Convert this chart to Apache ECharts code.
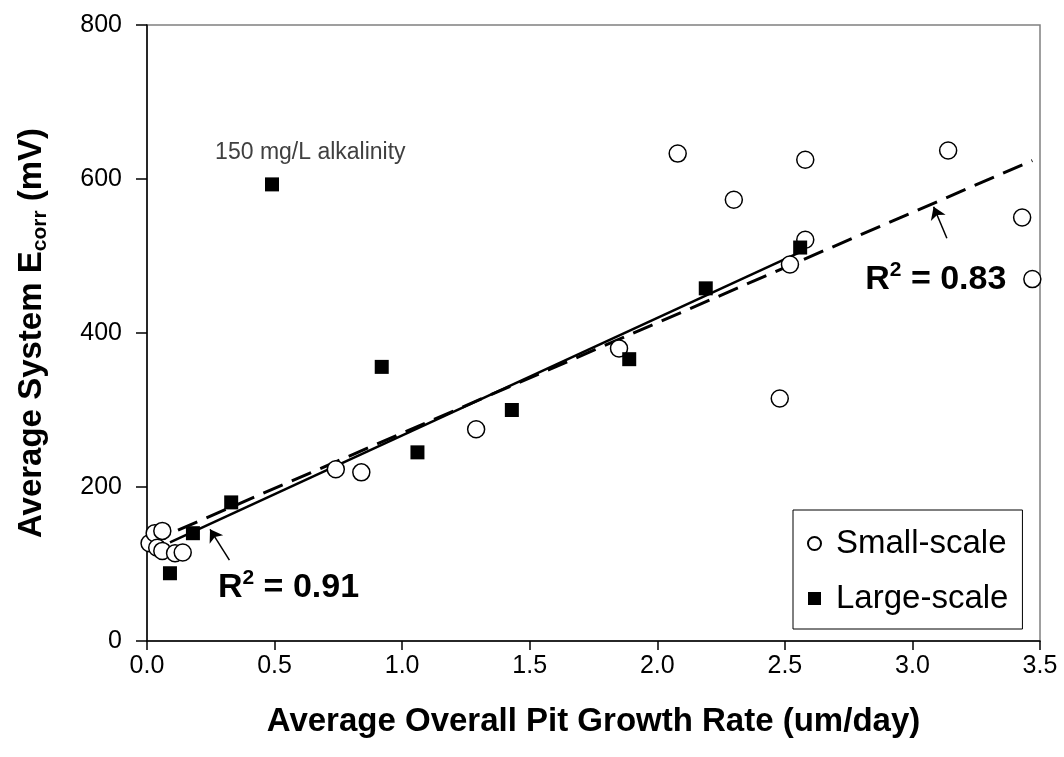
<!DOCTYPE html>
<html>
<head>
<meta charset="utf-8">
<script src="https://cdn.jsdelivr.net/npm/echarts@6/dist/echarts.min.js"></script>
<style>html,body{margin:0;padding:0;background:#fff}#c{width:1064px;height:757px}</style>
</head>
<body>
<div id="c"></div>
<script>
// Small-scale (open circles): [growth rate um/day, Ecorr mV]
var smallScale = [
  [0.01,127],[0.03,140],[0.06,143],[0.04,121],[0.06,117],[0.11,114],[0.14,115],
  [0.74,223],[0.84,219],[1.29,275],[1.85,380],[2.08,633],[2.30,573],[2.48,315],
  [2.52,489],[2.58,521],[2.58,625],[3.14,637],[3.43,550],[3.47,470]
];
// Large-scale (filled squares)
var largeScale = [
  [0.09,88],[0.18,140],[0.33,180],[0.49,593],[0.92,356],[1.06,245],
  [1.43,300],[1.89,366],[2.19,458],[2.56,511]
];
// Trend line endpoints
var trendSolid = [[0.09,128],[2.56,505]];
var trendDashed = [[0.01,128],[3.47,624]];
// Annotation arrows [from, to]
var arrows = [
  [[3.135,523],[3.083,564]],
  [[0.323,105],[0.247,145]]
];
// Text annotations
var notes = [
  {coord:[0.267,634], text:'150 mg/L alkalinity', kind:'plain'},
  {coord:[2.815,469], text:'{a|R}{s|2}{a| = 0.83}', kind:'rich'},
  {coord:[0.278,69], text:'{a|R}{s|2}{a| = 0.91}', kind:'rich'}
];
var xTicks = {min:0, max:3.5, interval:0.5};
var yTicks = {min:0, max:800, interval:200};

var FF = '"Liberation Sans", Arial, sans-serif';
var chart = echarts.init(document.getElementById('c'), null, {renderer:'canvas'});

var noteData = notes.map(function(n){
  return {
    coord: n.coord,
    symbolSize: 0,
    label: {
      show: true,
      position: 'inside',
      align: 'left',
      verticalAlign: 'middle',
      formatter: n.text,
      color: n.kind === 'plain' ? '#404040' : '#000',
      fontSize: n.kind === 'plain' ? 23 : 34,
      fontWeight: n.kind === 'plain' ? 'normal' : 'bold',
      fontFamily: FF,
      rich: {
        a: {fontSize: 34, fontWeight: 'bold', fontFamily: FF, color:'#000', lineHeight: 40},
        s: {fontSize: 21, fontWeight: 'bold', fontFamily: FF, color:'#000', lineHeight: 20, verticalAlign: 'top'}
      }
    }
  };
});

var option = {
  backgroundColor: '#fff',
  animation: false,
  grid: {left:147, right:24, top:25, bottom:116, show:true, borderColor:'#808080', borderWidth:1.5, backgroundColor:'transparent'},
  legend: {
    data: ['Small-scale','Large-scale'],
    orient: 'vertical',
    left: 793, top: 510,
    itemWidth: 13, itemHeight: 13, itemGap: 22,
    padding: [17, 14, 14, 14],
    borderColor: '#000', borderWidth: 1, backgroundColor:'#fff',
    textStyle: {fontSize: 33, color:'#000', fontFamily: FF, padding: [0, 0, 0, 10]}
  },
  xAxis: {
    type: 'value', min: xTicks.min, max: xTicks.max, interval: xTicks.interval,
    name: 'Average Overall Pit Growth Rate (um/day)',
    nameLocation: 'middle', nameGap: 64,
    nameTextStyle: {fontSize: 33, fontWeight:'bold', color:'#000', fontFamily: FF},
    axisLine: {lineStyle:{color:'#000', width:1.5}},
    axisTick: {inside:false, length:9, lineStyle:{color:'#000', width:1.5}},
    axisLabel: {fontSize: 25, color:'#000', fontFamily: FF, margin: 13, formatter: function(v){return v.toFixed(1);}},
    splitLine: {show:false}
  },
  yAxis: {
    type: 'value', min: yTicks.min, max: yTicks.max, interval: yTicks.interval,
    name: '{b|Average System E}{s|corr}{b| (mV)}',
    nameLocation: 'middle', nameGap: 96, nameRotate: 90,
    nameTextStyle: {
      rich: {
        b: {fontSize: 33, fontWeight:'bold', color:'#000', fontFamily: FF, lineHeight: 38},
        s: {fontSize: 21, fontWeight:'bold', color:'#000', fontFamily: FF, lineHeight: 14, verticalAlign:'bottom'}
      }
    },
    axisLine: {show:true, lineStyle:{color:'#000', width:1.5}},
    axisTick: {show:true, inside:false, length:11, lineStyle:{color:'#000', width:1.5}},
    axisLabel: {fontSize: 25, color:'#000', fontFamily: FF, margin: 25},
    splitLine: {show:false}
  },
  series: [
    {
      name: 'trendDashed', type: 'line', data: trendDashed, symbol: 'none', z: 2,
      lineStyle: {color:'#000', width: 3, type: [21, 10]},
      silent: true
    },
    {
      name: 'trendSolid', type: 'line', data: trendSolid, symbol: 'none', z: 2,
      lineStyle: {color:'#000', width: 2.5},
      silent: true,
      markLine: {
        silent: true, symbol: ['none','arrow'], symbolSize: 12,
        label: {show:false},
        lineStyle: {color:'#000', width:1.5, type:'solid'},
        data: arrows.map(function(a){ return [{coord:a[0]},{coord:a[1]}]; })
      },
      markPoint: {silent:true, symbol:'circle', data: noteData}
    },
    {
      name: 'Small-scale', type: 'scatter', data: smallScale, symbol: 'circle', symbolSize: 17, z: 3,
      itemStyle: {color:'#fff', borderColor:'#000', borderWidth:1.5, opacity:1}
    },
    {
      name: 'Large-scale', type: 'scatter', data: largeScale, symbol: 'rect', symbolSize: 14, z: 4,
      itemStyle: {color:'#000', borderColor:'#000', borderWidth:0, opacity:1}
    }
  ]
};
chart.setOption(option);
</script>
</body>
</html>
